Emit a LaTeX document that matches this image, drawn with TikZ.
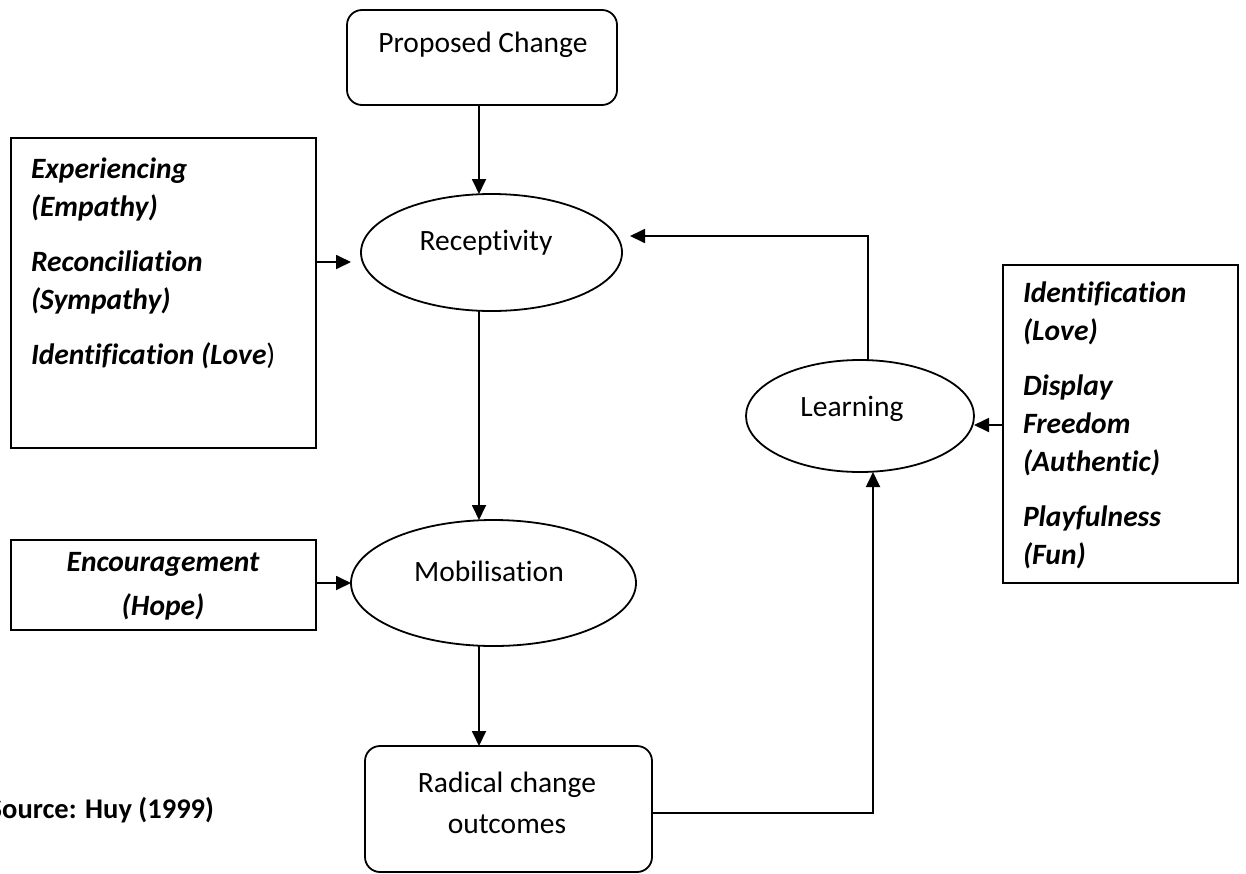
\documentclass[tikz,border=0pt]{standalone}
\usepackage{fontspec}
\setmainfont{Carlito}[Ligatures=NoCommon]
\usetikzlibrary{shapes.geometric,arrows.meta}
\begin{document}
\begin{tikzpicture}[x=1pt,y=-1pt,
  every node/.style={inner sep=0pt, outer sep=0pt},
  flowbox/.style={draw, rectangle, rounded corners=15pt, line width=1.8pt},
  oval/.style={draw, ellipse, line width=1.8pt},
  panel/.style={draw, rectangle, line width=1.8pt},
  lbl/.style={font=\fontsize{29.5}{41}\selectfont},
  emo/.style={font=\fontsize{29.5}{38}\selectfont\bfseries\itshape},
  arr/.style={-{Triangle[length=15pt,width=14pt]}, line width=1.8pt},
]
\useasboundingbox (0,0) rectangle (1246,873);

% main flow shapes
\node[flowbox, minimum width=270pt, minimum height=95pt] (prop) at (482,57.5) {};
\node[oval, minimum width=261pt, minimum height=117pt] (rec) at (491.5,252.5) {};
\node[oval, minimum width=285pt, minimum height=126pt] (mob) at (493.5,583) {};
\node[oval, minimum width=228pt, minimum height=112pt] (lrn) at (860,416) {};
\node[flowbox, minimum width=287pt, minimum height=126pt] (rad) at (508.5,809) {};

% emotion panels
\node[panel, minimum width=305pt, minimum height=310pt] (emoA) at (163.5,293) {};
\node[panel, minimum width=305pt, minimum height=90pt] (emoB) at (163.5,585) {};
\node[panel, minimum width=235pt, minimum height=318pt] (emoC) at (1120.5,424) {};

% labels
\node[lbl] (propT) at (483,45) {Proposed Change};
\node[lbl] (recT) at (486,243) {Receptivity};
\node[lbl] (mobT) at (489,571) {Mobilisation};
\node[lbl] (lrnT) at (852,409) {Learning};
\node[lbl, align=center] (radT) at (507,803) {Radical change\\outcomes};

\node[emo, align=left, anchor=west] (emoAT) at (31,263)
  {Experiencing\\(Empathy)\\[17pt]Reconciliation\\(Sympathy)\\[17pt]Identification (Love{\normalfont)}};
\node[emo, align=center, font=\fontsize{29.5}{44}\selectfont\bfseries\itshape] (emoBT) at (163,586) {Encouragement\\(Hope)};
\node[emo, align=left, anchor=west] (emoCT) at (1023,425)
  {Identification\\(Love)\\[17pt]Display\\Freedom\\(Authentic)\\[17pt]Playfulness\\(Fun)};

\node[font=\fontsize{28.5}{32}\selectfont\bfseries, anchor=east] (src) at (214,810) {Source: Huy (1999)};

% connector guides
\coordinate (spine) at (479,0);
\coordinate (inA) at (316,262);
\coordinate (fb) at (868,236);
\coordinate (inC) at (1003,425);
\coordinate (rt) at (873,813);

% connectors
\draw[arr] (prop.south -| spine) -- (rec.north -| spine);
\draw[arr] (rec.south -| spine) -- (mob.north -| spine);
\draw[arr] (mob.south -| spine) -- (rad.north -| spine);
\draw[arr, shorten >=10pt] (inA) -- (rec.west |- inA);
\draw[arr] (emoB.east |- mob.west) -- (mob.west);
\draw[arr, shorten >=8pt] (lrn.north -| fb) -- (fb) -- (rec.east |- fb);
\draw[arr] (inC) -- (lrn.east |- inC);
\draw[arr] (rad.east |- rt) -- (rt) -- (rt |- lrn.south);
\end{tikzpicture}
\end{document}
